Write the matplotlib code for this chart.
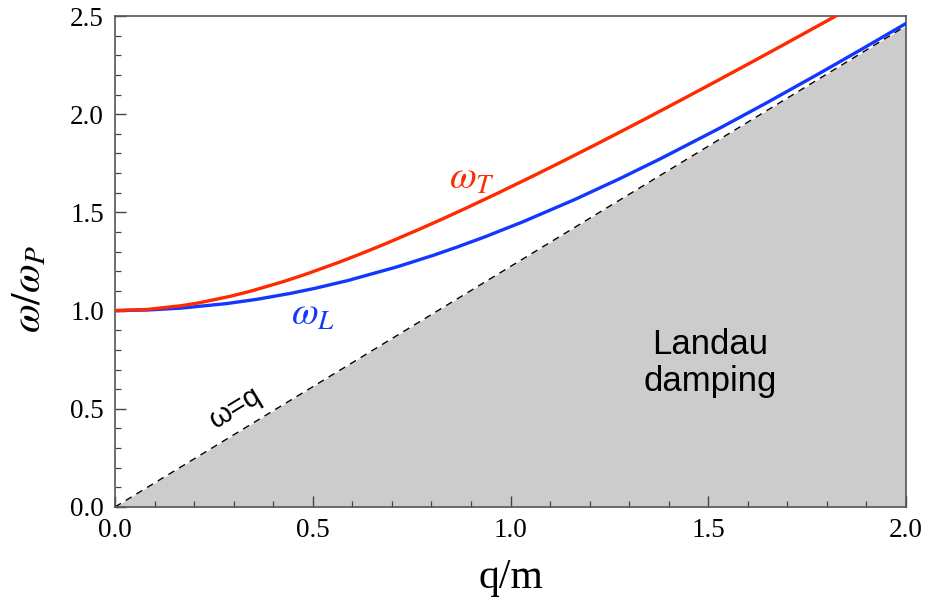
import matplotlib
matplotlib.use("Agg")
import matplotlib.pyplot as plt
from matplotlib.ticker import MultipleLocator

# Transverse plasmon branch (q/m, omega/omega_P)
q_T = [0.0, 0.0821, 0.1673, 0.2122, 0.2920, 0.3455, 0.4260, 0.4845, 0.5648,
       0.6178, 0.6841, 0.7700, 0.8237, 0.8874, 0.9646, 1.0608, 1.1312, 1.2146,
       1.2796, 1.3543, 1.4411, 1.5165, 1.6031, 1.6684, 1.7411, 1.8228, 1.9155]
w_T = [1.0, 1.0060, 1.0248, 1.0394, 1.0730, 1.1003, 1.1479, 1.1867, 1.2450,
       1.2863, 1.3405, 1.4146, 1.4628, 1.5215, 1.5949, 1.6890, 1.7595, 1.8446,
       1.9120, 1.9903, 2.0827, 2.1638, 2.2578, 2.3294, 2.4096, 2.5004, 2.6040]

# Longitudinal plasmon branch
q_L = [0.0, 0.0819, 0.1653, 0.2819, 0.3599, 0.4441, 0.5050, 0.5884, 0.7131,
       0.8050, 0.8640, 0.9368, 1.0306, 1.1615, 1.2744, 1.3782, 1.5301, 1.6455,
       1.7843, 1.8894, 1.9965, 2.0061]
w_L = [1.0, 1.0030, 1.0123, 1.0356, 1.0579, 1.0878, 1.1132, 1.1529, 1.2227,
       1.2816, 1.3228, 1.3767, 1.4515, 1.5647, 1.6700, 1.7723, 1.9301, 2.0555,
       2.2115, 2.3325, 2.4579, 2.4691]

# Light cone omega = q (Landau damping region lies below it)
q_cone = [0.0, 2.0]
w_cone = [0.0, 2.4495]

x_ticks = [0.0, 0.5, 1.0, 1.5, 2.0]
y_ticks = [0.0, 0.5, 1.0, 1.5, 2.0, 2.5]

plt.rcParams["mathtext.fontset"] = "stix"
serif = "Liberation Serif"
sans = "Liberation Sans"

fig = plt.figure(figsize=(9.41, 6.02), dpi=100)
ax = fig.add_axes([115 / 941, 1 - 507 / 602, 791 / 941, 491 / 602])

ax.fill_between(q_cone, 0, w_cone, color="#cccccc", lw=0, zorder=1)
ax.plot(q_cone, w_cone, color="black", lw=1.0, ls=(0, (5, 4)), zorder=2)
ax.plot(q_L, w_L, color="#1238ff", lw=2.4, zorder=3, solid_capstyle="butt")
ax.plot(q_T, w_T, color="#ff2a00", lw=2.4, zorder=3, solid_capstyle="butt")

ax.set_xlim(0, 2)
ax.set_ylim(0, 2.5)
ax.set_xticks(x_ticks)
ax.set_yticks(y_ticks)
ax.set_xticklabels([f"{v:.1f}" for v in x_ticks], fontfamily=serif, fontsize=19.5)
ax.set_yticklabels([f"{v:.1f}" for v in y_ticks], fontfamily=serif, fontsize=19.5)
ax.xaxis.set_minor_locator(MultipleLocator(0.1))
ax.yaxis.set_minor_locator(MultipleLocator(0.1))
ax.tick_params(which="major", direction="in", length=8, width=1.0,
               color="#444444", pad=8, top=False, right=False)
ax.tick_params(which="minor", direction="in", length=4, width=0.9,
               color="#444444", top=False, right=False)
ax.tick_params(axis="y", which="major", pad=8)
for s in ax.spines.values():
    s.set_color("#555555")
    s.set_linewidth(1.2)

ax.set_xlabel("q/m", fontfamily=serif, fontsize=30)
ax.xaxis.set_label_coords(0.5, -0.105)
ax.set_ylabel(r"$\omega/\omega_P$", fontsize=30)
ax.yaxis.set_label_coords(-0.083, 0.444)

ax.text(0.903, 1.675, r"$\omega_T$", color="#ff2a00", fontsize=28,
        ha="center", va="center")
ax.text(0.50, 0.985, r"$\omega_L$", color="#1238ff", fontsize=28,
        ha="center", va="center")
ax.text(0.305, 0.505, "ω=q", fontfamily=sans, fontsize=21, rotation=31.3,
        rotation_mode="anchor", ha="center", va="center")
ax.text(1.504, 0.735, "Landau\ndamping", fontfamily=sans, fontsize=25,
        ha="center", va="center", linespacing=1.15)

fig.savefig("out.png", dpi=100)
